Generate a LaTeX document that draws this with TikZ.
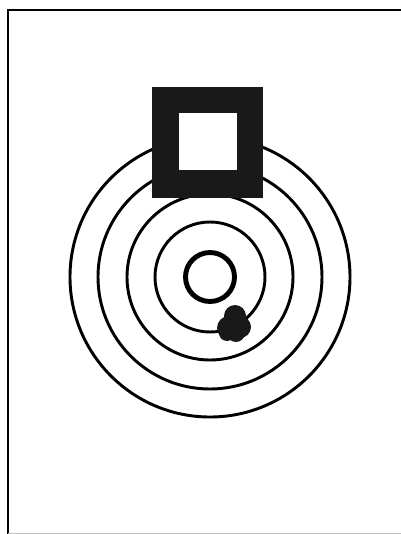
\documentclass[tikz,border=0pt]{standalone}
\usepackage{tikz}

\begin{document}
\begin{tikzpicture}[x=0.03cm, y=-0.03cm,
  frameline/.style={line width=1.7pt, black},
  ring/.style={line width=2.5pt, draw=black},
  bullseye/.style={line width=4.2pt, draw=black},
  plate/.style={fill=black!90},
  hole/.style={fill=white},
  hit/.style={fill=black!90}]

\useasboundingbox[fill=white] (0,0) rectangle (401,534);

% Frame
\coordinate (topright) at (401,10);
\coordinate (corner) at (8,10);
\coordinate (botleft) at (8,534);
\draw[frameline] (topright) -- (corner) -- (botleft);
\draw[black!25, line width=0.6pt] (8,533) -- (401,533);

% Rings
\coordinate (ctr) at (210,277);
\foreach \r in {140,112,83,55}
  \draw[ring] (ctr) circle (\r);
\draw[bullseye] (ctr) circle (24.5);

% Square
\fill[plate] (152,87) rectangle (263,198);
\fill[hole] (179,113) rectangle (237,170);

% Hit
\fill[hit] (235,316) circle (11);
\fill[hit] (229,328) circle (12);
\fill[hit] (240,327) circle (11);
\fill[hit] (236,333) circle (9);
\fill[hit] (227,333) circle (8);

\end{tikzpicture}
\end{document}
